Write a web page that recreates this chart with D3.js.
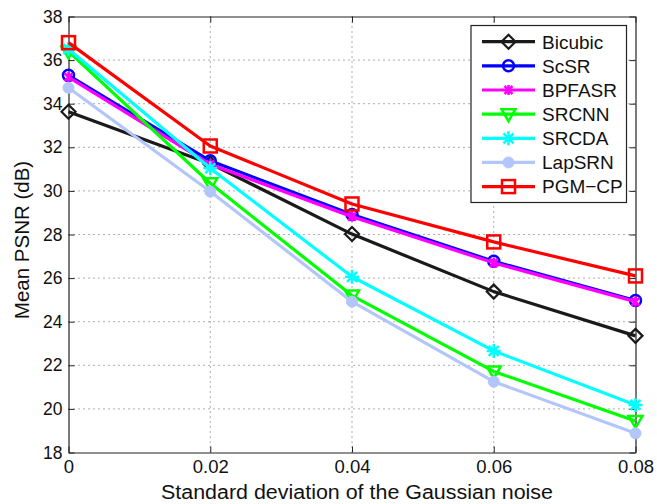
<!DOCTYPE html>
<html><head><meta charset="utf-8">
<script src="https://cdn.jsdelivr.net/npm/d3@7"></script>
<style>
body{margin:0;background:#fff;}
svg{display:block;font-family:"Liberation Sans",Arial,Helvetica,sans-serif;}
</style></head>
<body><svg id="c" width="657" height="504"></svg>
<script>
const noise = [0, 0.02, 0.04, 0.06, 0.08];
const xTicks = [0, 0.02, 0.04, 0.06, 0.08];
const yTicks = [18, 20, 22, 24, 26, 28, 30, 32, 34, 36, 38];
const bicubic = [33.63, 31.25, 28.02, 25.38, 23.35];
const scsr    = [35.3, 31.38, 28.92, 26.77, 24.97];
const bpfasr  = [35.22, 31.22, 28.82, 26.7, 24.92];
const srcnn   = [36.4, 30.35, 25.2, 21.72, 19.45];
const srcda   = [36.5, 31.04, 26.06, 22.66, 20.18];
const lapsrn  = [34.73, 29.97, 24.92, 21.25, 18.88];
const pgmcp   = [36.8, 32.06, 29.4, 27.66, 26.1];
const seriesNames = ["Bicubic","ScSR","BPFASR","SRCNN","SRCDA","LapSRN","PGM\u2212CP"];
const seriesValues = [bicubic, scsr, bpfasr, srcnn, srcda, lapsrn, pgmcp];
const colors = ["#1a1a1a","#0000ff","#ff00ff","#00ff00","#00ffff","#b3c6fa","#ff0000"];
const markers = ["diamond","circle","xstar","tri","asterisk","dot","square"];

const svg = d3.select("#c");
const L=68.5, R=635.5, T=16.5, B=452.5;
const x = d3.scaleLinear().domain([0,0.08]).range([L,R]);
const y = d3.scaleLinear().domain([18,38]).range([B,T]);

// grid
const g = svg.append("g");
g.selectAll(".gx").data(xTicks.slice(1,-1)).enter().append("line")
 .attr("x1",d=>x(d)).attr("x2",d=>x(d)).attr("y1",T).attr("y2",B)
 .attr("stroke","#333").attr("stroke-width",0.8).attr("stroke-dasharray","1,4");
g.selectAll(".gy").data(yTicks.slice(1,-1)).enter().append("line")
 .attr("y1",d=>y(d)).attr("y2",d=>y(d)).attr("x1",L).attr("x2",R)
 .attr("stroke","#333").attr("stroke-width",0.8).attr("stroke-dasharray","1,4");

// axes
const fmtX = d=> d===0?"0":d3.format(".2f")(d);
const xAx = svg.append("g").attr("transform",`translate(0,${B})`)
 .call(d3.axisBottom(x).tickValues(xTicks).tickFormat(fmtX).tickSizeInner(-6).tickSizeOuter(0).tickPadding(6));
const xAxT = svg.append("g").attr("transform",`translate(0,${T})`)
 .call(d3.axisTop(x).tickValues(xTicks).tickFormat("").tickSizeInner(-6).tickSizeOuter(0));
const yAx = svg.append("g").attr("transform",`translate(${L},0)`)
 .call(d3.axisLeft(y).tickValues(yTicks).tickSizeInner(-6).tickSizeOuter(0).tickPadding(6));
const yAxR = svg.append("g").attr("transform",`translate(${R},0)`)
 .call(d3.axisRight(y).tickValues(yTicks).tickFormat("").tickSizeInner(-6).tickSizeOuter(0));
[xAx,xAxT,yAx,yAxR].forEach(a=>{
  a.select(".domain").attr("stroke","#222").attr("stroke-width",1.2);
  a.selectAll(".tick line").attr("stroke","#222");
  a.selectAll("text").attr("fill","#111").attr("font-family","Liberation Sans, Arial, sans-serif");
});
xAx.selectAll("text").attr("font-size",18.5).attr("dy","0.8em");
yAx.selectAll("text").attr("font-size",17.5);

// marker drawing
function drawMarker(sel, type, color){
  if(type==="diamond"){
    sel.append("path").attr("d","M0,-7L7,0L0,7L-7,0Z").attr("fill","none").attr("stroke",color).attr("stroke-width",2.2);
  } else if(type==="circle"){
    sel.append("circle").attr("r",5.5).attr("fill","none").attr("stroke",color).attr("stroke-width",2.5);
  } else if(type==="xstar"){
    sel.append("path").attr("d","M-4,-4L4,4M-4,4L4,-4M0,-5L0,5").attr("stroke",color).attr("stroke-width",2.5);
  } else if(type==="tri"){
    sel.append("path").attr("d","M-7,-5L7,-5L0,7Z").attr("fill","none").attr("stroke",color).attr("stroke-width",2.5);
  } else if(type==="asterisk"){
    sel.append("path").attr("d","M-7,0L7,0M0,-7L0,7M-5,-5L5,5M-5,5L5,-5").attr("stroke",color).attr("stroke-width",2.5);
  } else if(type==="dot"){
    sel.append("circle").attr("r",5.5).attr("fill",color).attr("stroke",color).attr("stroke-width",1);
  } else if(type==="square"){
    sel.append("rect").attr("x",-6.5).attr("y",-6.5).attr("width",13).attr("height",13).attr("fill","none").attr("stroke",color).attr("stroke-width",2.5);
  }
}

const line = d3.line().x((d,i)=>x(noise[i])).y(d=>y(d));
seriesValues.forEach((vals,k)=>{
  const sg = svg.append("g");
  sg.append("path").datum(vals).attr("d",line).attr("fill","none")
    .attr("stroke",colors[k]).attr("stroke-width",3.2).attr("stroke-linejoin","round");
  vals.forEach((v,i)=>{
    const m = sg.append("g").attr("transform",`translate(${x(noise[i])},${y(v)})`);
    drawMarker(m, markers[k], colors[k]);
  });
});

// legend
const lg = svg.append("g");
lg.append("rect").attr("x",471).attr("y",25.5).attr("width",155.5).attr("height",177)
  .attr("fill","#fff").attr("stroke","#222").attr("stroke-width",1.2);
seriesNames.forEach((n,k)=>{
  const yy = 41.7 + k*24.15;
  lg.append("line").attr("x1",482).attr("x2",535).attr("y1",yy).attr("y2",yy)
    .attr("stroke",colors[k]).attr("stroke-width",3.2);
  const m = lg.append("g").attr("transform",`translate(508.5,${yy})`);
  drawMarker(m, markers[k], colors[k]);
  lg.append("text").attr("x",542).attr("y",yy).attr("dy","0.36em")
    .attr("font-size",19).attr("fill","#111").text(n);
});

// titles
svg.append("text").attr("x",357).attr("y",499).attr("text-anchor","middle")
  .attr("font-size",20).attr("textLength",392).attr("lengthAdjust","spacingAndGlyphs")
  .attr("fill","#111").text("Standard deviation of the Gaussian noise");
svg.append("text").attr("transform",`translate(29,240) rotate(-90)`).attr("text-anchor","middle")
  .attr("font-size",20.5).attr("fill","#111").text("Mean PSNR (dB)");
</script></body></html>
